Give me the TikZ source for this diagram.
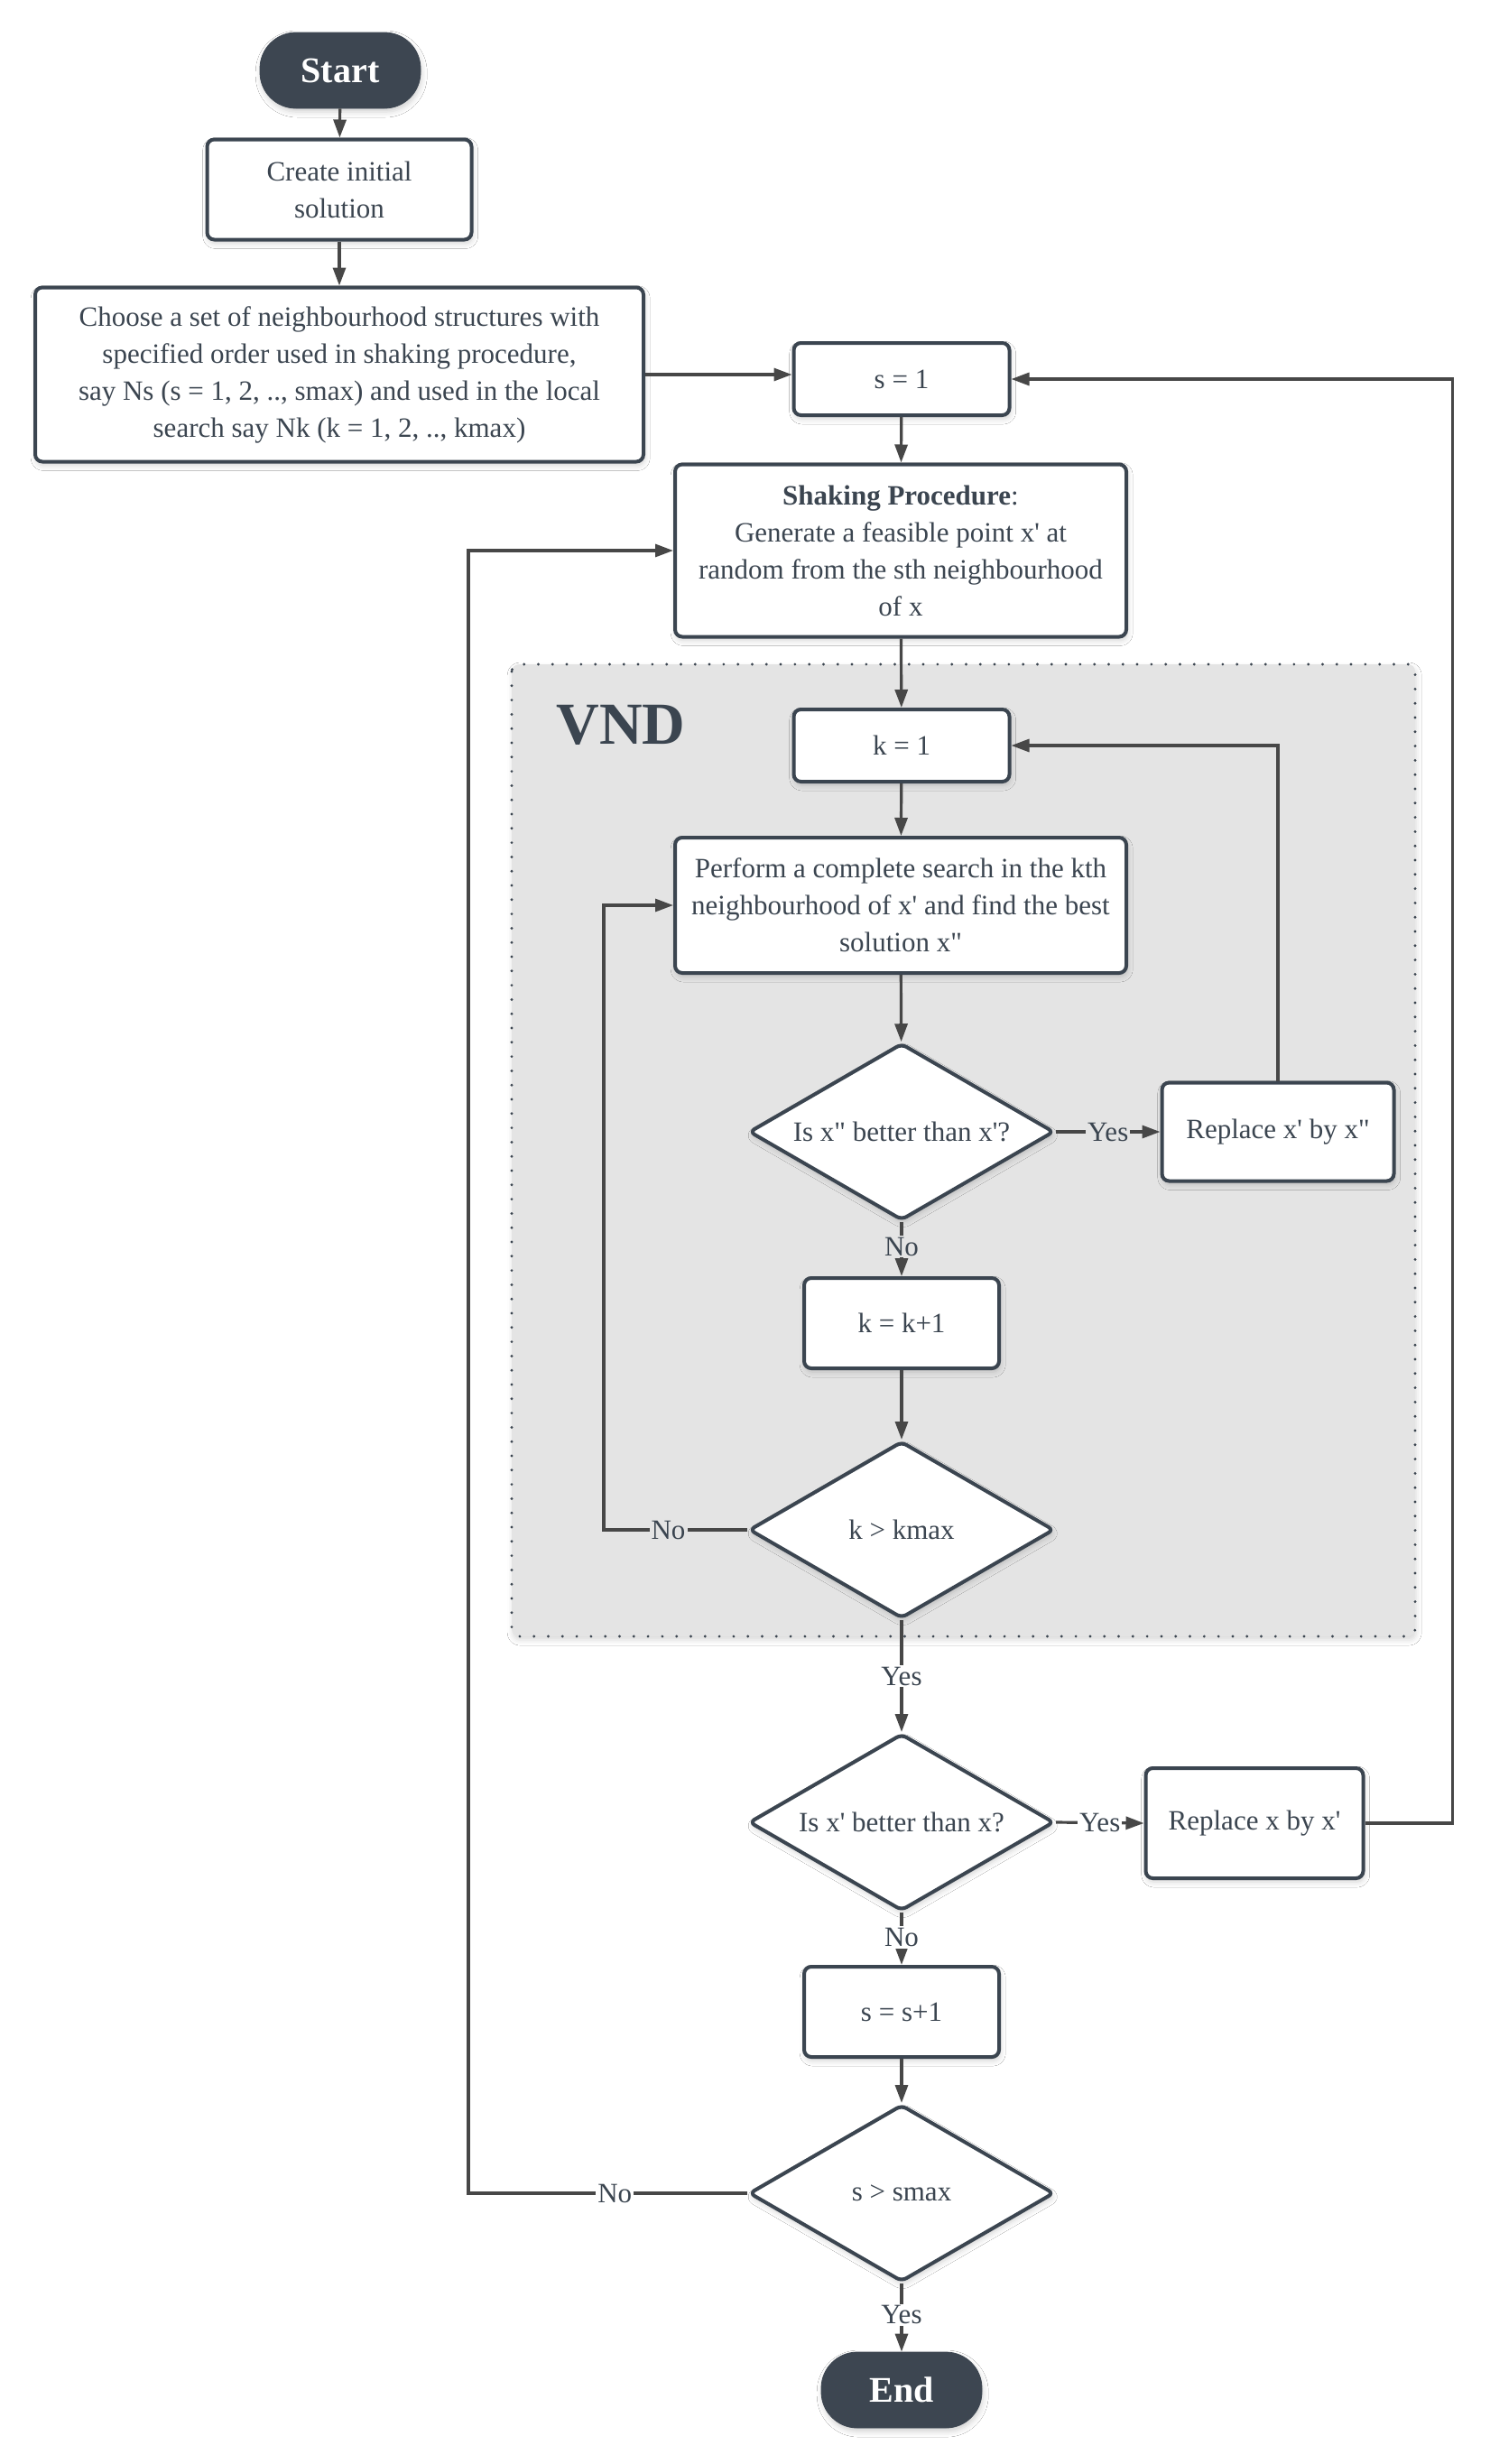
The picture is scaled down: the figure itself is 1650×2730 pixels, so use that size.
\documentclass[tikz,border=0pt]{standalone}
\usepackage{fontspec}
\setmainfont{Liberation Serif}[Ligatures=TeXOff]
\usetikzlibrary{shapes.geometric,arrows.meta,shadows.blur,calc}
\definecolor{bordc}{HTML}{3B4550}
\definecolor{txtc}{HTML}{3B4550}
\definecolor{linec}{HTML}{474747}
\definecolor{vndfill}{HTML}{E4E4E4}
\definecolor{termfill}{HTML}{3D4651}
\newcommand\fsz{\fontsize{15.5}{20.5}\selectfont}
\begin{document}
\begin{tikzpicture}[x=0.5pt,y=-0.5pt,
  shad/.style={blur shadow={shadow xshift=0.6pt,shadow yshift=-2pt,shadow blur radius=3pt,shadow opacity=18}},
  procbox/.style={draw=bordc,line width=2pt,rounded corners=4pt,fill=white,text=txtc,align=center,inner sep=0pt,font=\fsz,shad},
  decis/.style={diamond,shape aspect=1.72,draw=bordc,line width=2pt,rounded corners=3pt,fill=white,text=txtc,align=center,inner sep=0pt,font=\fsz,minimum width=169pt,minimum height=98pt,shad},
  term/.style={draw=termfill,fill=termfill,rounded corners=20pt,text=white,font=\fontsize{20}{24}\selectfont\bfseries,minimum width=89pt,minimum height=42pt,inner sep=0pt,shad},
  conn/.style={draw=linec,line width=1.6pt,-{Triangle[length=10pt,width=7pt]}},
  lblw/.style={fill=white,text=txtc,font=\fsz,inner sep=1pt},
  lblg/.style={fill=vndfill,text=txtc,font=\fsz,inner sep=1pt},
]
\useasboundingbox (0,0) rectangle (1650,2730);
\fill[white] (0,0) rectangle (1650,2730);

% VND region
\draw[draw=bordc,line width=1.6pt,dash pattern=on 0pt off 7.9pt,line cap=round,fill=vndfill,rounded corners=4pt,
  blur shadow={shadow xshift=0.6pt,shadow yshift=-2pt,shadow blur radius=3pt,shadow opacity=15}]
  (567,736) rectangle (1568,1813);
\node[text=txtc,font=\fontsize{33}{36}\selectfont\bfseries] (vndlbl) at (688,803) {VND};

% nodes
\node[term] (start) at (377,78) {Start};
\node[procbox,minimum width=146.5pt,minimum height=55.5pt] (init) at (376,210) {Create initial\\solution};
\node[procbox,minimum width=337pt,minimum height=96.5pt] (choose) at (376,415)
  {Choose a set of neighbourhood structures with\\specified order used in shaking procedure,\\say Ns (s = 1, 2, .., smax) and used in the local\\search say Nk (k = 1, 2, .., kmax)};
\node[procbox,minimum width=119.5pt,minimum height=40pt] (s1) at (999,420) {s = 1};
\node[procbox,minimum width=250pt,minimum height=95.5pt] (shake) at (998,610)
  {\textbf{Shaking Procedure}:\\Generate a feasible point x' at\\random from the sth neighbourhood\\of x};
\node[procbox,minimum width=119.5pt,minimum height=40pt] (k1) at (999,826) {k = 1};
\node[procbox,minimum width=250pt,minimum height=75pt] (perform) at (998,1003)
  {Perform a complete search in the kth\\neighbourhood of x' and find the best\\solution x"};
\node[decis] (d1) at (999,1254) {Is x" better than x'?};
\node[procbox,minimum width=128.5pt,minimum height=54.5pt] (rep1) at (1416,1254) {Replace x' by x"};
\node[procbox,minimum width=108pt,minimum height=50pt] (kk1) at (999,1466) {k = k+1};
\node[decis] (d2) at (999,1695) {k > kmax};
\node[decis] (d3) at (999,2019) {Is x' better than x?};
\node[procbox,minimum width=120.5pt,minimum height=61pt] (rep2) at (1390,2020) {Replace x by x'};
\node[procbox,minimum width=108pt,minimum height=50pt] (ss1) at (999,2229) {s = s+1};
\node[decis] (d4) at (999,2430) {s > smax};
\node[term] (end) at (999,2648) {End};

% connectors
\draw[conn] (start) -- (init);
\draw[conn] (init) -- (choose);
\draw[conn] (choose.east) -- (choose.east -| s1.west);
\draw[conn] (s1) -- (shake);
\draw[conn] (shake) -- (k1);
\draw[conn] (k1) -- (perform);
\draw[conn] (perform) -- (d1);
\draw[conn] (d1.east) -- node[lblg]{Yes} (rep1.west);
\draw[conn] (d1.south) -- node[lblg,pos=0.45]{No} (kk1.north);
\draw[conn] (kk1) -- (d2);
\draw[conn] (d2.west) -- node[lblg,pos=0.55]{No} ++(-159,0) |- (perform.west);
\draw[conn] (rep1.north) |- (k1.east);
\draw[conn] (d2.south) -- node[lblw]{Yes} (d3.north);
\draw[conn] (d3.east) -- node[lblw]{Yes} (rep2.west);
\draw[conn] (rep2.east) -- ++(97,0) |- (s1.east);
\draw[conn] (d3.south) -- node[lblw,pos=0.47]{No} (ss1.north);
\draw[conn] (ss1) -- (d4);
\draw[conn] (d4.west) -- node[lblw,pos=0.475]{No} ++(-309,0) |- (shake.west);
\draw[conn] (d4.south) -- node[lblw,pos=0.46]{Yes} (end.north);
\end{tikzpicture}
\end{document}
